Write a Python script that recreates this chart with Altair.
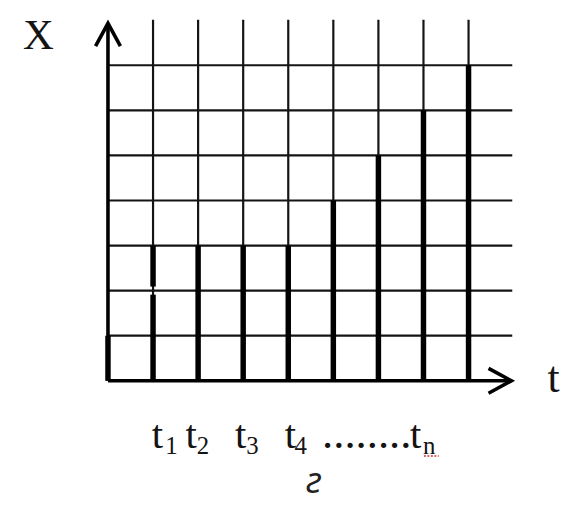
import altair as alt
import pandas as pd

# ---- data ----
grid_x = [1, 2, 3, 4, 5, 6, 7, 8]          # vertical grid lines
grid_y = [1, 2, 3, 4, 5, 6, 7]             # horizontal grid lines
grid_top = 8.01
grid_right = 8.97
bar_x = [0, 1, 2, 3, 4, 5, 6, 7, 8]
bar_heights = [1, 3, 3, 3, 3, 4, 5, 6, 7]
bar_gap = {1: (1.91, 2.09)}                # small break in the 2nd bar
axis_x_end = 8.95
axis_y_end = 7.93

tick_t_x = [0.97, 1.72, 2.82, 3.92, 6.70]
tick_sub_x = [1.27, 1.97, 3.07, 4.14, 6.99]
tick_subs = ["1", "2", "3", "4", "n"]
dots_x = 4.75
dots_text = "........"
label_base_y = -1.49
sub_base_y = -1.63

X_DOM = [-2.218, 10.029]
Y_DOM = [-2.694, 8.231]

xs = alt.Scale(domain=X_DOM, nice=False, zero=False)
ys = alt.Scale(domain=Y_DOM, nice=False, zero=False)


def X(f):
    return alt.X(f, type="quantitative", scale=xs, axis=None)


def Y(f):
    return alt.Y(f, type="quantitative", scale=ys, axis=None)


vgrid = pd.DataFrame({"x": grid_x, "y0": [0] * len(grid_x), "y1": [grid_top] * len(grid_x)})
hgrid = pd.DataFrame({"y": grid_y, "x0": [0] * len(grid_y), "x1": [grid_right] * len(grid_y)})

segs = []
for bx, h in zip(bar_x, bar_heights):
    if bx in bar_gap:
        g0, g1 = bar_gap[bx]
        segs.append({"x": bx, "y0": 0, "y1": g0})
        segs.append({"x": bx, "y0": g1, "y1": h})
    else:
        segs.append({"x": bx, "y0": 0, "y1": h})
bars = pd.DataFrame(segs)

axes_df = pd.DataFrame({
    "x0": [0, 0], "x1": [axis_x_end, 0],
    "y0": [0, 0], "y1": [0, axis_y_end],
})
arrows = pd.DataFrame({"x": [0, axis_x_end], "y": [axis_y_end, 0], "angle": [0, 90]})

labels_t = pd.DataFrame({"x": tick_t_x, "y": [label_base_y] * 5, "t": ["t"] * 5})
labels_sub = pd.DataFrame({"x": tick_sub_x, "y": [sub_base_y] * 5, "t": tick_subs})
dots = pd.DataFrame({"x": [dots_x], "y": [label_base_y], "t": [dots_text]})
axis_names = pd.DataFrame({"x": [-1.546, 9.885], "y": [7.37, -0.25], "t": ["X", "t"],
                           "size": [43, 44]})
caption = pd.DataFrame({"x": [4.57], "y": [-2.49], "t": ["г"]})
squiggle = pd.DataFrame({"x0": [7.01], "x1": [7.34], "y": [-1.67]})

INK = "#141414"

vgrid_l = alt.Chart(vgrid).mark_rule(strokeWidth=2.2, color=INK).encode(
    x=X("x"), y=Y("y0"), y2="y1")
hgrid_l = alt.Chart(hgrid).mark_rule(strokeWidth=2.2, color=INK).encode(
    y=Y("y"), x=X("x0"), x2="x1")
bars_l = alt.Chart(bars).mark_rule(strokeWidth=5.5, color="black").encode(
    x=X("x"), y=Y("y0"), y2="y1")
axes_l = alt.Chart(axes_df).mark_rule(strokeWidth=3.6, color="black").encode(
    x=X("x0"), x2="x1", y=Y("y0"), y2="y1")
arrows_l = alt.Chart(arrows).mark_point(
    shape="M-1,1.84L0,0L1,1.84", size=625, filled=False, strokeWidth=3.6,
    color="black", opacity=1, strokeJoin="miter").encode(
    x=X("x"), y=Y("y"), angle=alt.Angle("angle:Q", scale=None))

font = "Liberation Serif"
t_l = alt.Chart(labels_t).mark_text(font=font, fontSize=41, align="left",
                                    baseline="alphabetic", color=INK).encode(
    x=X("x"), y=Y("y"), text="t:N")
sub_l = alt.Chart(labels_sub).mark_text(font=font, fontSize=25, align="left",
                                        baseline="alphabetic", color=INK).encode(
    x=X("x"), y=Y("y"), text="t:N")
dots_l = alt.Chart(dots).mark_text(font=font, fontSize=45, align="left",
                                   baseline="alphabetic", color=INK).encode(
    x=X("x"), y=Y("y"), text="t:N")
names_l = alt.Chart(axis_names).mark_text(font=font, align="center",
                                          baseline="alphabetic", color=INK).encode(
    x=X("x"), y=Y("y"), text="t:N", size=alt.Size("size:Q", scale=None))
cap_l = alt.Chart(caption).mark_text(font="Open Sans", fontSize=36, fontStyle="italic",
                                     align="center", baseline="alphabetic",
                                     color="#222").encode(
    x=X("x"), y=Y("y"), text="t:N")
sq_l = alt.Chart(squiggle).mark_rule(color="#d03030", strokeWidth=1.5,
                                     strokeDash=[2, 1.5]).encode(
    x=X("x0"), x2="x1", y=Y("y"))

chart = alt.layer(
    vgrid_l, hgrid_l, bars_l, axes_l, arrows_l, t_l, sub_l, dots_l, names_l, cap_l, sq_l
).properties(
    width=556, height=496, padding=0,
    autosize=alt.AutoSizeParams(type="none"),
    background="white",
).configure_view(stroke=None)

chart.save("out.html", embed_options={"renderer": "svg", "actions": False})
